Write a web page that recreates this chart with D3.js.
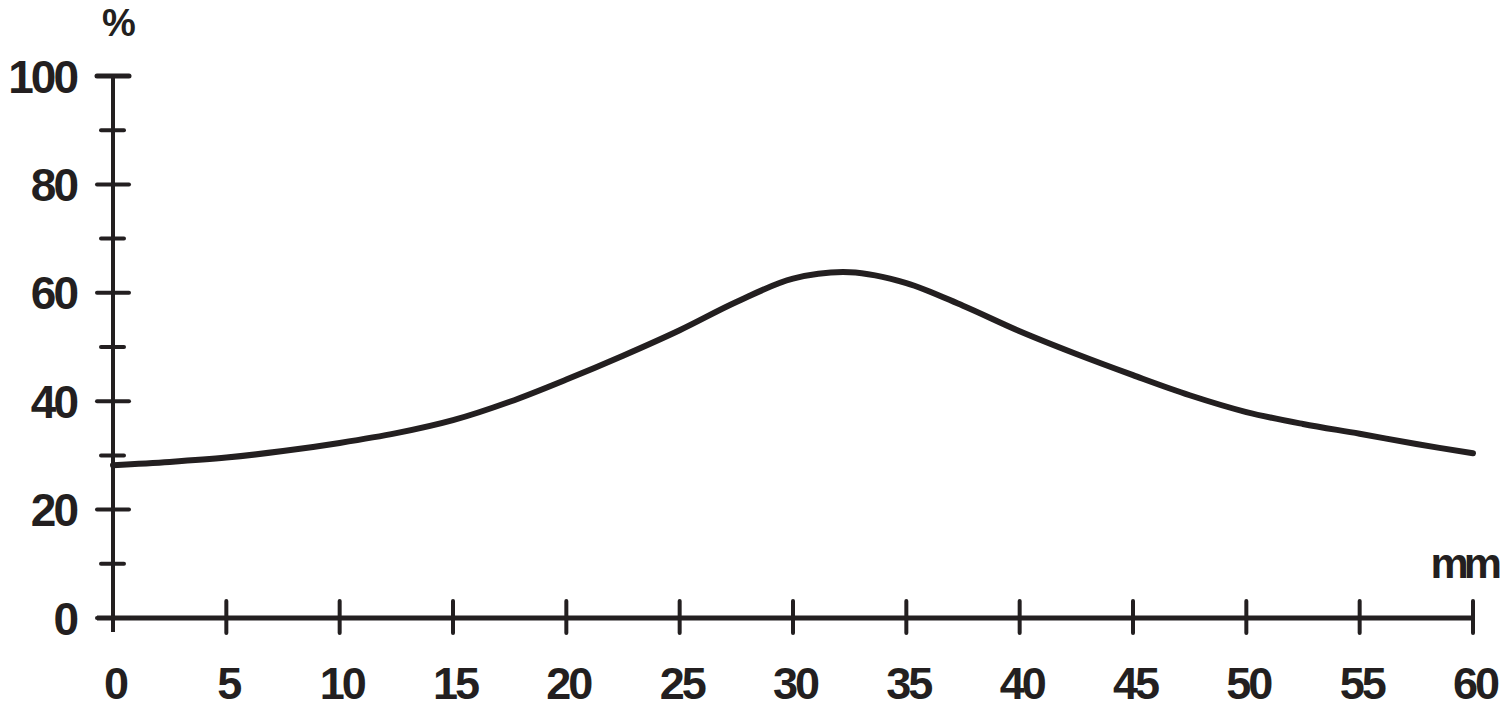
<!DOCTYPE html>
<html>
<head>
<meta charset="utf-8">
<script src="https://cdn.jsdelivr.net/npm/d3@7"></script>
<style>
  html, body { margin: 0; padding: 0; background: #fff; }
  svg text { font-family: "Liberation Sans", Arial, sans-serif; font-weight: bold; fill: #231f20; }
</style>
</head>
<body>
<svg id="chart" width="1500" height="709"></svg>
<script>
// Data
const xValues = [0, 2.5, 5, 7.5, 10, 12.5, 15, 17.5, 20, 22.5, 25, 27.5, 30, 32.5, 35, 37.5, 40, 42.5, 45, 47.5, 50, 52.5, 55, 57.5, 60];
const yValues = [28.2, 28.8, 29.6, 30.8, 32.3, 34.1, 36.5, 39.9, 44.0, 48.4, 53.1, 58.3, 62.6, 63.8, 61.8, 57.6, 52.9, 48.7, 44.8, 41.1, 38.0, 35.8, 34.0, 32.1, 30.4];
const xTickLabels = [0, 5, 10, 15, 20, 25, 30, 35, 40, 45, 50, 55, 60];
const yTickLabels = [0, 20, 40, 60, 80, 100];
const yMinorTicks = [10, 30, 50, 70, 90];
const xUnit = "mm";
const yUnit = "%";

const ink = "#231f20";
const svg = d3.select("#chart");

const x = d3.scaleLinear().domain([0, 60]).range([113, 1473]);
const y = d3.scaleLinear().domain([0, 100]).range([618, 76]);

// Axes lines
svg.append("line")
  .attr("x1", x(0)).attr("x2", x(0))
  .attr("y1", y(100)).attr("y2", y(0) + 14)
  .attr("stroke", ink).attr("stroke-width", 4);
svg.append("line")
  .attr("x1", x(0) - 16).attr("x2", x(60))
  .attr("y1", y(0)).attr("y2", y(0))
  .attr("stroke", ink).attr("stroke-width", 5);

// Y major ticks
svg.selectAll(".ymaj").data(yTickLabels).enter().append("line")
  .attr("x1", x(0) - 16).attr("x2", x(0) + 16)
  .attr("y1", d => y(d)).attr("y2", d => y(d))
  .attr("stroke", ink).attr("stroke-width", d => d === 100 ? 5 : 4)
  .attr("stroke-linecap", "round");
// Y minor ticks
svg.selectAll(".ymin").data(yMinorTicks).enter().append("line")
  .attr("x1", x(0) - 12).attr("x2", x(0) + 11)
  .attr("y1", d => y(d)).attr("y2", d => y(d))
  .attr("stroke", ink).attr("stroke-width", 4)
  .attr("stroke-linecap", "round");
// X ticks
svg.selectAll(".xt").data(xTickLabels.filter(d => d !== 0)).enter().append("line")
  .attr("x1", d => x(d)).attr("x2", d => x(d))
  .attr("y1", y(0) - 17).attr("y2", y(0) + 15)
  .attr("stroke", ink).attr("stroke-width", 4)
  .attr("stroke-linecap", "round");

// Y labels
svg.selectAll(".yl").data(yTickLabels).enter().append("text")
  .attr("x", 76).attr("y", d => y(d))
  .attr("dy", "0.36em")
  .attr("text-anchor", "end")
  .attr("font-size", 46)
  .attr("letter-spacing", -3)
  .text(d => d);

// X labels
svg.selectAll(".xl").data(xTickLabels).enter().append("text")
  .attr("x", d => x(d) + 2).attr("y", 699)
  .attr("text-anchor", "middle")
  .attr("font-size", 45)
  .attr("letter-spacing", -3)
  .text(d => d);

// Units
svg.append("text").attr("x", 118).attr("y", 36)
  .attr("text-anchor", "middle").attr("font-size", 38).attr("letter-spacing", -2).text(yUnit);
svg.append("text").attr("x", 1497).attr("y", 578)
  .attr("text-anchor", "end").attr("font-size", 43).attr("letter-spacing", -5).text(xUnit);

// Curve
const data = xValues.map((v, i) => [v, yValues[i]]);
const line = d3.line().x(d => x(d[0])).y(d => y(d[1])).curve(d3.curveCatmullRom.alpha(0.5));
svg.append("path").datum(data)
  .attr("d", line)
  .attr("fill", "none")
  .attr("stroke", ink)
  .attr("stroke-width", 6)
  .attr("stroke-linecap", "round")
  .attr("stroke-linejoin", "round");
</script>
</body>
</html>
